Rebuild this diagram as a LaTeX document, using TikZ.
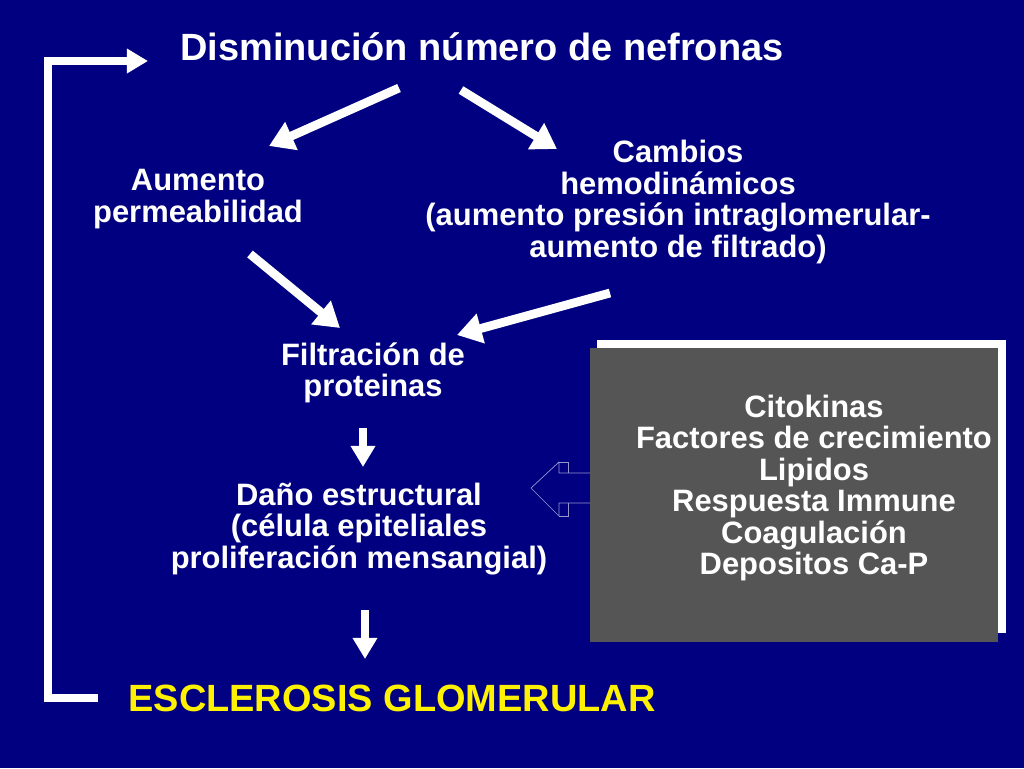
\documentclass[tikz,border=0pt]{standalone}
\usepackage{fontspec}
\setmainfont{Liberation Sans}
\usetikzlibrary{arrows.meta,positioning,calc}
\definecolor{fondo}{RGB}{0,0,128}
\definecolor{gris}{RGB}{85,85,85}
\definecolor{borde}{RGB}{150,150,205}

\begin{document}
\begin{tikzpicture}[x=0.3mm,y=-0.3mm,
    txt/.style={text=white,font=\bfseries\fontsize{26.4}{26.8}\selectfont,align=center,inner sep=0pt},
    big/.style={font=\bfseries\fontsize{32.4}{34}\selectfont,inner sep=0pt},
    flecha/.style={white,line width=7.5pt,-{Triangle[length=21pt,width=25pt]}},
    baja/.style={white,line width=7pt,-{Triangle[length=18pt,width=20pt]}}]
   \fill[fondo] (0,0) rectangle (1024,768);
   \useasboundingbox (0,0) rectangle (1024,768);
   \node[big,text=white] (nefronas) at (482,47) {Disminución número de nefronas};
   \node[txt] (permeab) at (198,199) {Aumento\\permeabilidad};
   \node[txt] (cambios) at (678,202) {Cambios\\hemodinámicos\\(aumento presión intraglomerular-\\aumento de filtrado)};
   \node[txt] (filtra) at (373,373) {Filtración de\\proteinas};
   \node[txt] (dano) at (359,529) {Daño estructural\\(célula epiteliales\\proliferación mensangial)};
   \node[big,text=yellow] (esclerosis) at (392,698) {ESCLEROSIS GLOMERULAR};
   \fill[white] (597,340) rectangle (1006,633);
   \node[fill=gris,minimum width=122.4mm,minimum height=88.2mm,inner sep=0pt] (caja) at (794,494.5) {};
   \node[txt] (factores) at (814,488) {Citokinas\\Factores de crecimiento\\Lipidos\\Respuesta Immune\\Coagulación\\Depositos Ca-P};
   \coordinate (a1) at (399,88);  \coordinate (b1) at (269,146);
   \coordinate (a2) at (461,90);  \coordinate (b2) at (557,149);
   \coordinate (a3) at (250,254); \coordinate (b3) at (340,328);
   \coordinate (a4) at (610,293); \coordinate (b4) at (457,335);
   \draw[flecha] (a1) -- (b1);
   \draw[flecha] (a2) -- (b2);
   \draw[flecha] (a3) -- (b3);
   \draw[flecha] (a4) -- (b4);
   \draw[baja] (363,428) -- (363,467);
   \draw[baja] (365,610) -- (365,659);
   \draw[white,line width=6.8pt,-{Triangle[length=18pt,width=20pt]}] (98,698) -| (48,61) -- (148,61);
   \draw[borde,line width=0.6pt,line join=round] (caja.west |- 0,473) -- (559,473) -- (559,462) -- (531,488)
      -- (559,516) -- (559,503) -- (caja.west |- 0,503);
   \draw[borde,line width=0.6pt] (559,462) -- (568,462) -- (568,473);
   \draw[borde,line width=0.6pt] (559,516) -- (568,516) -- (568,503);
\end{tikzpicture}
\end{document}
